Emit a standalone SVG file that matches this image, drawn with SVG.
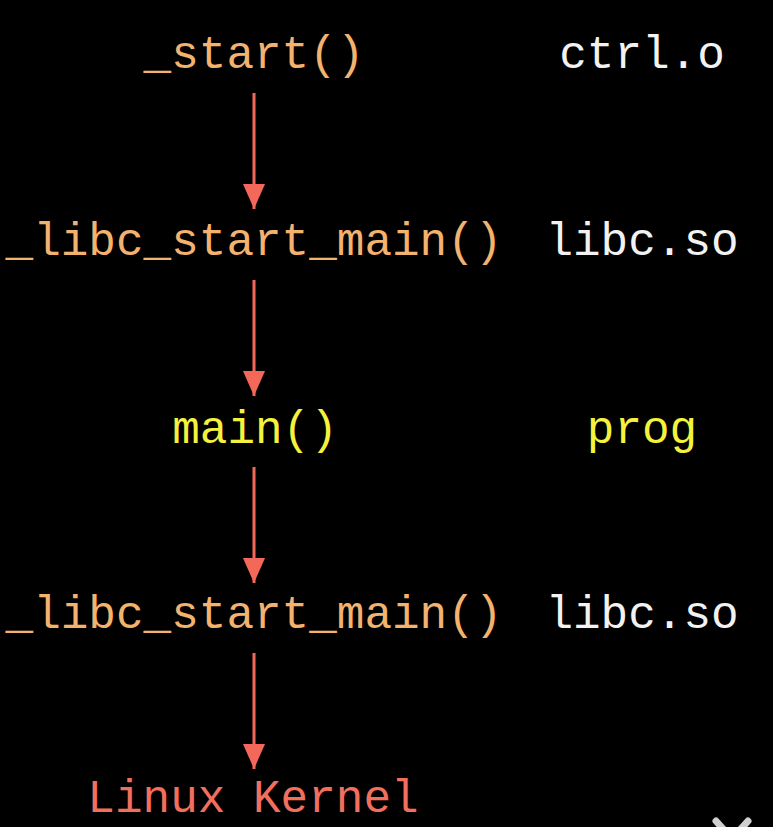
<svg xmlns="http://www.w3.org/2000/svg" width="773" height="827" viewBox="0 0 773 827">
  <style>
    text { font-family: "Liberation Mono", "Courier New", monospace; font-size: 46px; text-anchor: middle; }
    .fn { fill: #f3b26e; }
    .lib { fill: #f2f2f2; }
    .main { fill: #f4f23c; }
    .kern { fill: #f26f5e; }
    .conn line { stroke: #f4685a; stroke-width: 3; }
  </style>
  <defs>
    <marker id="arr" markerUnits="userSpaceOnUse" markerWidth="25" markerHeight="22" refX="25" refY="11" orient="auto" viewBox="0 0 25 22">
      <path d="M0,0 L25,11 L0,22 Z" fill="#f4685a"/>
    </marker>
  </defs>
  <rect width="773" height="827" fill="#000"/>

  <g id="n-start"><text class="fn" x="254" y="68">_start()</text></g>
  <g id="n-ctrl"><text class="lib" x="642" y="68">ctrl.o</text></g>

  <g id="n-libc1"><text class="fn" x="254" y="255">_libc_start_main()</text></g>
  <g id="n-libcso1"><text class="lib" x="642" y="255">libc.so</text></g>

  <g id="n-main"><text class="main" x="255" y="443">main()</text></g>
  <g id="n-prog"><text class="main" x="642" y="443">prog</text></g>

  <g id="n-libc2"><text class="fn" x="254" y="628">_libc_start_main()</text></g>
  <g id="n-libcso2"><text class="lib" x="642" y="628">libc.so</text></g>

  <g id="n-kernel"><text class="kern" x="253" y="812">Linux Kernel</text></g>

  <g id="connectors" class="conn">
    <line x1="254" y1="93" x2="254" y2="209" marker-end="url(#arr)"/>
    <line x1="254" y1="280" x2="254" y2="396" marker-end="url(#arr)"/>
    <line x1="254" y1="467" x2="254" y2="583" marker-end="url(#arr)"/>
    <line x1="254" y1="653" x2="254" y2="769" marker-end="url(#arr)"/>
  </g>

  <g id="corner-icon" stroke="#cfcfcf" stroke-width="7" stroke-linecap="round">
    <line x1="716" y1="821" x2="724" y2="830"/>
    <line x1="748" y1="821" x2="740" y2="830"/>
  </g>
</svg>
